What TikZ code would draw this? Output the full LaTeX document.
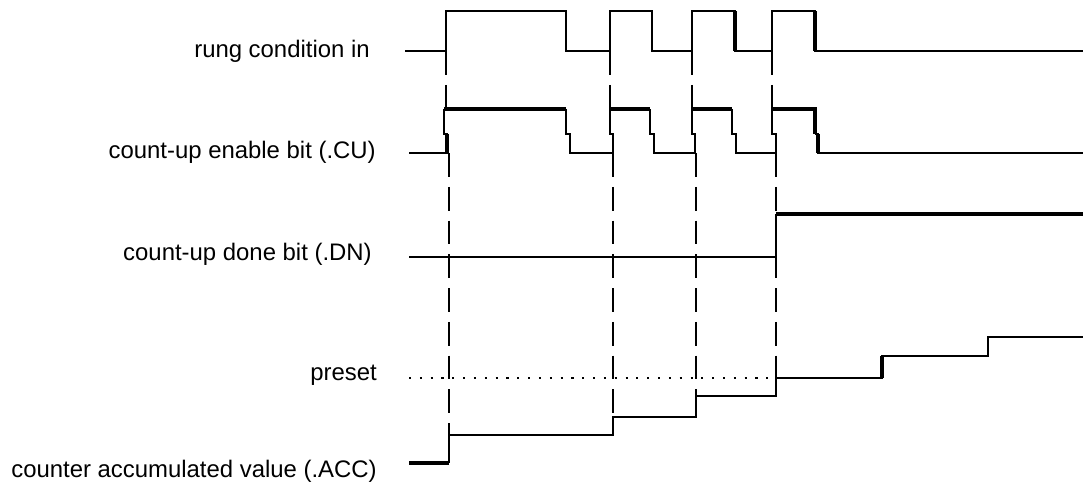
\documentclass[tikz,border=0pt]{standalone}
\usepackage{fontspec}
\setmainfont{Liberation Sans}
\tikzset{
    % Waveform styles - plain black lines
    signal/.style={
        line width=1.3pt,
        draw=black
    },
    thicksignal/.style={
        line width=2.4pt,
        draw=black
    },
    thinsignal/.style={
        line width=1pt,
        draw=black
    },
    % Guide lines between the traces
    guide/.style={
        line width=1.3pt,
        draw=black,
        dash pattern=on 17pt off 7pt
    },
    presetline/.style={
        line width=1.3pt,
        draw=black,
        dash pattern=on 1.5pt off 6.2pt
    },
    siglabel/.style={
        anchor=base east,
        inner sep=0pt,
        font=\fontsize{17}{20}\selectfont
    }
}
\begin{document}
\begin{tikzpicture}[x=0.025cm, y=-0.025cm]
    \useasboundingbox (0,0) rectangle (1088,483);

    % Labels
    \node[siglabel] (rung) at (370,57) {rung condition in};
    \node[siglabel] (cu) at (376,158) {count-up enable bit (.CU)};
    \node[siglabel] (dn) at (372,260) {count-up done bit (.DN)};
    \node[siglabel] (pre) at (377,380) {preset};
    \node[siglabel] (acc) at (377,477) {counter accumulated value (.ACC)};

    % Guide lines
    \foreach \r/\c/\e in {446/449/435, 610/613/417, 692/696/396, 772/776/378} {
        \draw[guide] (\r,51) -- (\r,109);
        \draw[guide] (\c,153) -- (\c,\e);
    }

    % Rung condition in
    \draw[signal] (405,51) -- (446,51) -- (446,11) -- (566,11) -- (566,51)
        -- (610,51) -- (610,11) -- (652,11) -- (652,51)
        -- (692,51) -- (692,11) -- (735,11) -- (735,51)
        -- (772,51) -- (772,11) -- (815,11) -- (815,51) -- (1083,51);
    \draw[thicksignal] (735,11) -- (735,51);
    \draw[thicksignal] (815,11) -- (815,51);

    % Count-up enable bit
    \draw[signal] (409,153) -- (447,153) -- (447,134) -- (444,134) -- (444,109);
    \draw[thicksignal] (447,153) -- (447,134);
    \draw[thicksignal] (444,109) -- (566,109);
    \draw[signal] (566,109) -- (566,134) -- (570,134) -- (570,153)
        -- (613,153) -- (613,134) -- (610,134) -- (610,109);
    \draw[thicksignal] (610,109) -- (650,109);
    \draw[signal] (650,109) -- (650,134) -- (654,134) -- (654,153)
        -- (695,153) -- (695,134) -- (692,134) -- (692,109);
    \draw[thicksignal] (692,109) -- (732,109);
    \draw[signal] (732,109) -- (732,134) -- (736,134) -- (736,153)
        -- (776,153) -- (776,134) -- (772,134) -- (772,109);
    \draw[thicksignal] (772,109) -- (815,109) -- (815,134);
    \draw[signal] (815,134) -- (818,134) -- (818,153) -- (1083,153);
    \draw[thicksignal] (818,134) -- (818,153);

    % Count-up done bit
    \draw[thinsignal] (409,257) -- (776,257);
    \draw[signal] (776,257) -- (776,214);
    \draw[thicksignal] (776,214) -- (1083,214);

    % Preset level
    \draw[presetline] (409,378) -- (776,378);

    % Accumulated value
    \draw[thicksignal] (409,463) -- (449,463);
    \draw[signal] (449,463) -- (449,435) -- (613,435) -- (613,417)
        -- (696,417) -- (696,396) -- (776,396) -- (776,378)
        -- (882,378) -- (882,356) -- (988,356) -- (988,337) -- (1083,337);
    \draw[thicksignal] (882,378) -- (882,356);
\end{tikzpicture}
\end{document}
